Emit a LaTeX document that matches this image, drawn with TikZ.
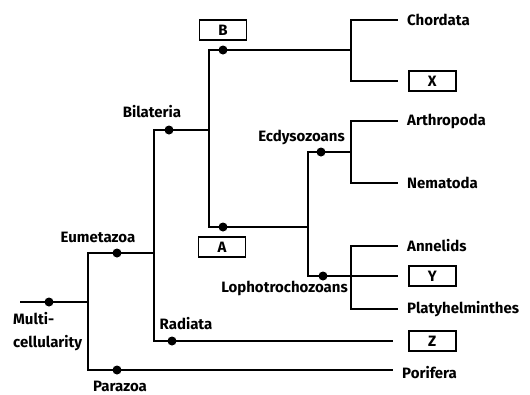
\documentclass[tikz,border=0pt]{standalone}
\usepackage{fontspec}
\setmainfont{Fira Sans}
\usetikzlibrary{positioning}

\begin{document}
\begin{tikzpicture}[
    x=1pt,y=-1pt,
    node distance=8pt,
    branch/.style={line width=1.9pt,line cap=rect},
    taxon/.style={font=\bfseries\fontsize{15}{23}\selectfont,inner sep=2pt},
    blank/.style={draw,line width=1.5pt,minimum width=47pt,minimum height=20pt,
      inner sep=0pt,font=\bfseries\fontsize{15}{17}\selectfont},
    dot/.style={circle,fill,inner sep=0pt,minimum size=9pt}
  ]
  \useasboundingbox (0,0) rectangle (530,394);
  % junctions and branch tips
  \coordinate (root) at (21,302);
  \coordinate (jMulti) at (88,302);
  \coordinate (jEum) at (154,253);
  \coordinate (jBil) at (209,130);
  \coordinate (jB) at (351,50);
  \coordinate (jA) at (308,227);
  \coordinate (jEcd) at (351,152);
  \coordinate (jLop) at (351,276);
  \coordinate (tipChor) at (397,20);
  \coordinate (tipX) at (397,81);
  \coordinate (tipArt) at (397,121);
  \coordinate (tipNem) at (397,183);
  \coordinate (tipAnn) at (397,246);
  \coordinate (tipY) at (397,276);
  \coordinate (tipPla) at (397,309);
  \coordinate (tipRad) at (392,341);
  \coordinate (tipPor) at (392,370);

  % branches
  \draw[branch] (root) -- (jMulti);
  \draw[branch] (tipPor) -| (jMulti) |- (jEum);
  \draw[branch] (tipRad) -| (jEum) |- (jBil);
  \draw[branch] (jB) -| (jBil) |- (jA);
  \draw[branch] (tipChor) -| (jB) |- (tipX);
  \draw[branch] (jEcd) -| (jA) |- (jLop);
  \draw[branch] (jLop) -- (tipY);
  \draw[branch] (tipArt) -| (jEcd) |- (tipNem);
  \draw[branch] (tipAnn) -| (jLop) |- (tipPla);

  % character dots
  \node[dot] (dMulti) at (49,302) {};
  \node[dot] (dEum) at (117,253) {};
  \node[dot] (dBil) at (169,130) {};
  \node[dot] (dB) at (223,50) {};
  \node[dot] (dA) at (223,227) {};
  \node[dot] (dEcd) at (321,152) {};
  \node[dot] (dLop) at (323,276) {};
  \node[dot] (dRad) at (172,341) {};
  \node[dot] (dPar) at (117,370) {};

  % clade labels
  \node[taxon,align=left,anchor=west] (multi) at (11,332) {Multi-\\cellularity};
  \node[taxon] (eum) at (98,237) {Eumetazoa};
  \node[taxon] (bil) at (152,112) {Bilateria};
  \node[taxon] (rad) at (186,324) {Radiata};
  \node[taxon] (par) at (120,386) {Parazoa};
  \node[taxon,anchor=east] (ecd) at (347,137) {Ecdysozoans};
  \node[taxon,anchor=east] (lop) at (350,288) {Lophotrochozoans};

  % phyla
  \node[taxon,right=of tipChor] (chor) {Chordata};
  \node[taxon,right=of tipArt] (art) {Arthropoda};
  \node[taxon,right=of tipNem] (nem) {Nematoda};
  \node[taxon,right=of tipAnn] (ann) {Annelids};
  \node[taxon,right=of tipPla] (pla) {Platyhelminthes};
  \node[taxon,right=of tipPor,yshift=-3pt] (por) {Porifera};

  % blanks to fill in
  \node[blank] (boxB) at (223,30) {B};
  \node[blank] (boxA) at (222,247) {A};
  \node[blank,right=11pt of tipX] (boxX) {X};
  \node[blank,right=11pt of tipY] (boxY) {Y};
  \node[blank,right=16pt of tipRad] (boxZ) {Z};
\end{tikzpicture}
\end{document}
